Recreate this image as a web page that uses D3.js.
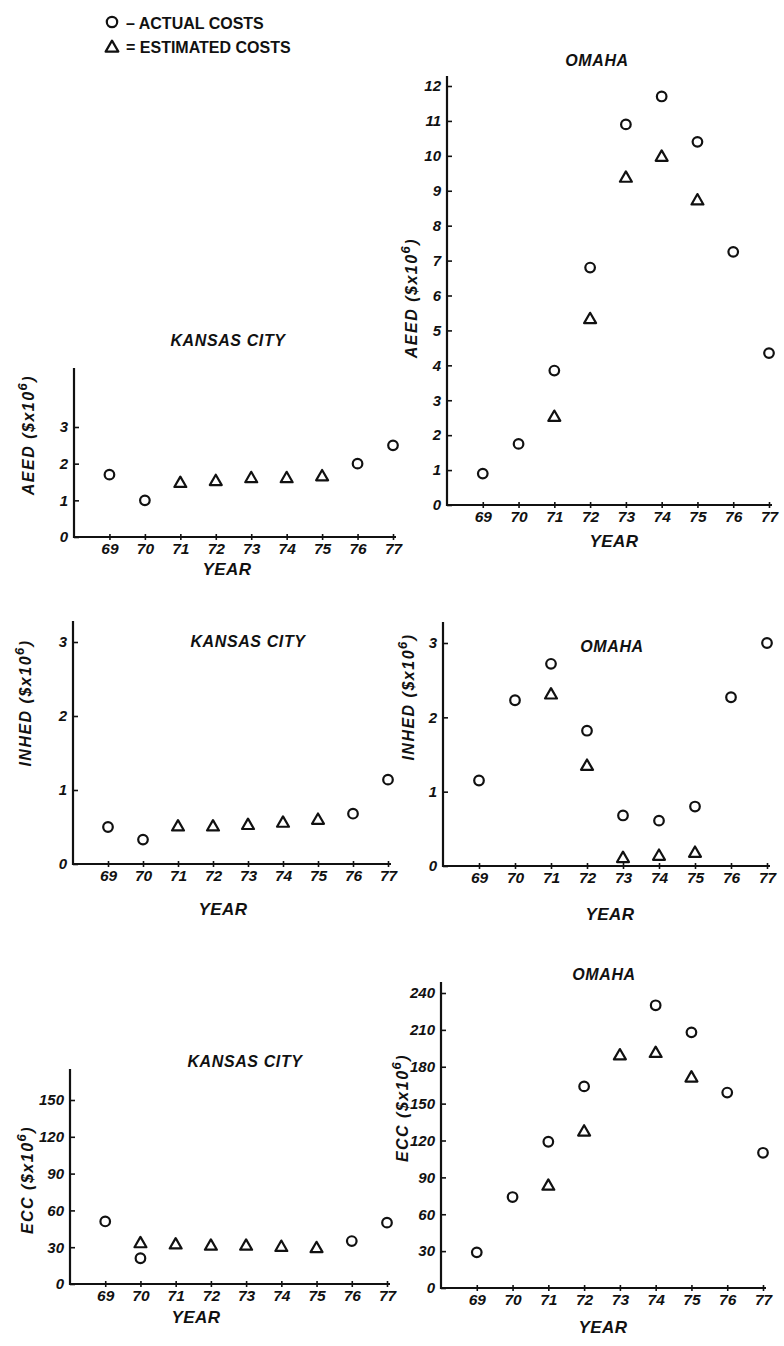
<!DOCTYPE html>
<html><head><meta charset="utf-8">
<script src="https://cdn.jsdelivr.net/npm/d3@7"></script>
<style>
html,body{margin:0;padding:0;background:#fff;}
svg{display:block;}
</style></head><body>
<svg id="c" width="784" height="1346"></svg>
<script>
// ---------- DATA ----------
const years = [69, 70, 71, 72, 73, 74, 75, 76, 77];
const yearLabels = ["69", "70", "71", "72", "73", "74", "75", "76", "77"];

const ticksInhedAeedKc = [0, 1, 2, 3];
const ticksAeedOmaha = [0, 1, 2, 3, 4, 5, 6, 7, 8, 9, 10, 11, 12];
const ticksEccKc = [0, 30, 60, 90, 120, 150];
const ticksEccOmaha = [0, 30, 60, 90, 120, 150, 180, 210, 240];

// [year, value]
const kcAeedActual = [[69, 1.7], [70, 1.0], [76, 2.0], [77, 2.5]];
const kcAeedEstimated = [[71, 1.5], [72, 1.55], [73, 1.63], [74, 1.63], [75, 1.68]];

const omahaAeedActual = [[69, 0.9], [70, 1.75], [71, 3.85], [72, 6.8], [73, 10.9], [74, 11.7], [75, 10.4], [76, 7.25], [77, 4.35]];
const omahaAeedEstimated = [[71, 2.55], [72, 5.35], [73, 9.4], [74, 10.0], [75, 8.75]];

const kcInhedActual = [[69, 0.5], [70, 0.33], [76, 0.68], [77, 1.14]];
const kcInhedEstimated = [[71, 0.52], [72, 0.52], [73, 0.54], [74, 0.57], [75, 0.61]];

const omahaInhedActual = [[69, 1.15], [70, 2.23], [71, 2.72], [72, 1.82], [73, 0.68], [74, 0.61], [75, 0.8], [76, 2.27], [77, 3.0]];
const omahaInhedEstimated = [[71, 2.32], [72, 1.36], [73, 0.12], [74, 0.15], [75, 0.19]];

const kcEccActual = [[69, 51], [70, 21], [76, 35], [77, 50]];
const kcEccEstimated = [[70, 34], [71, 33], [72, 32], [73, 32], [74, 31], [75, 30]];

const omahaEccActual = [[69, 29], [70, 74], [71, 119], [72, 164], [74, 230], [75, 208], [76, 159], [77, 110]];
const omahaEccEstimated = [[71, 84], [72, 128], [73, 190], [74, 192], [75, 172]];

const legendLabels = ["– ACTUAL COSTS", "= ESTIMATED COSTS"];

// ---------- PANELS ----------
const panels = [
  {title: "KANSAS CITY", ylab: "AEED", ticks: ticksInhedAeedKc, actual: kcAeedActual, est: kcAeedEstimated,
   L: {x0: 74, x77: 393, y0: 537, yRef: 427, top: 368, tx: 228, ty: 346, lx: 28, ly: 435, yx: 227, yy: 575}},
  {title: "OMAHA", ylab: "AEED", ticks: ticksAeedOmaha, actual: omahaAeedActual, est: omahaAeedEstimated,
   L: {x0: 447, x77: 769, y0: 505, yRef: 86, top: 76, tx: 597, ty: 66, lx: 411, ly: 298, yx: 614, yy: 547}},
  {title: "KANSAS CITY", ylab: "INHED", ticks: ticksInhedAeedKc, actual: kcInhedActual, est: kcInhedEstimated,
   L: {x0: 73, x77: 388, y0: 864, yRef: 642, top: 621, tx: 248, ty: 647, lx: 25, ly: 703, yx: 223, yy: 915}},
  {title: "OMAHA", ylab: "INHED", ticks: ticksInhedAeedKc, actual: omahaInhedActual, est: omahaInhedEstimated,
   L: {x0: 443, x77: 767, y0: 866, yRef: 643, top: 622, tx: 612, ty: 652, lx: 408, ly: 697, yx: 610, yy: 920}},
  {title: "KANSAS CITY", ylab: "ECC", ticks: ticksEccKc, actual: kcEccActual, est: kcEccEstimated,
   L: {x0: 70, x77: 387, y0: 1284, yRef: 1100, top: 1069, tx: 245, ty: 1067, lx: 27, ly: 1180, yx: 196, yy: 1323}},
  {title: "OMAHA", ylab: "ECC", ticks: ticksEccOmaha, actual: omahaEccActual, est: omahaEccEstimated,
   L: {x0: 441, x77: 763, y0: 1288, yRef: 993, top: 982, tx: 604, ty: 980, lx: 402, ly: 1108, yx: 603, yy: 1333}}
];

const INK = "#111";
const FONT = '"Liberation Sans", Arial, sans-serif';
const svg = d3.select("#c");
const tri = d3.symbol().type(d3.symbolTriangle).size(62);

function styleText(sel, size) {
  sel.attr("font-family", FONT).attr("font-weight", "bold").attr("font-style", "italic")
     .attr("font-size", size).attr("fill", INK);
}

panels.forEach(p => {
  const L = p.L;
  const g = svg.append("g");
  const maxTick = p.ticks[p.ticks.length - 1];
  const x = d3.scaleLinear().domain([68, 77]).range([L.x0, L.x77]);
  const y = d3.scaleLinear().domain([0, maxTick]).range([L.y0, L.yRef]);

  // y axis
  const ga = g.append("g").attr("transform", `translate(${L.x0},0)`)
    .call(d3.axisLeft(y).tickValues(p.ticks).tickSize(-5).tickPadding(6).tickFormat(d3.format("d")));
  ga.select(".domain").remove();
  ga.attr("font-family", null).attr("font-size", null);
  ga.selectAll(".tick line").attr("stroke", INK).attr("stroke-width", 1.6);
  styleText(ga.selectAll(".tick text"), 15);

  // x axis
  const gx = g.append("g").attr("transform", `translate(0,${L.y0})`)
    .call(d3.axisBottom(x).tickValues(years).tickSize(3).tickPadding(3)
      .tickFormat((d, i) => yearLabels[i]));
  gx.select(".domain").remove();
  gx.attr("font-family", null).attr("font-size", null);
  gx.selectAll(".tick line").attr("y1", -3).attr("stroke", INK).attr("stroke-width", 1.6);
  styleText(gx.selectAll(".tick text"), 15.5);

  // axis lines
  g.append("line").attr("x1", L.x0).attr("x2", L.x0).attr("y1", L.y0 + 1).attr("y2", L.top)
    .attr("stroke", INK).attr("stroke-width", 2.2);
  g.append("line").attr("x1", L.x0).attr("x2", x(77) + 3).attr("y1", L.y0).attr("y2", L.y0)
    .attr("stroke", INK).attr("stroke-width", 2.2);

  // title
  styleText(g.append("text").attr("x", L.tx).attr("y", L.ty).attr("text-anchor", "middle")
    .attr("letter-spacing", 0.6).text(p.title), 16);
  // YEAR
  styleText(g.append("text").attr("x", L.yx).attr("y", L.yy).attr("text-anchor", "middle")
    .attr("letter-spacing", 0.5).text("YEAR"), 17);
  // y label
  const yl = g.append("text").attr("transform", `translate(${L.lx + 6},${L.ly}) rotate(-90)`)
    .attr("text-anchor", "middle").attr("letter-spacing", 1.5);
  styleText(yl, 16);
  yl.append("tspan").text(p.ylab + " ($x10");
  yl.append("tspan").attr("dy", -7).attr("font-size", 13).text("6");
  yl.append("tspan").attr("dy", 7).text(")");

  // markers
  g.selectAll("circle.act").data(p.actual).join("circle").attr("class", "act")
    .attr("cx", d => x(d[0])).attr("cy", d => y(d[1])).attr("r", 4.8)
    .attr("fill", "none").attr("stroke", INK).attr("stroke-width", 2.2);
  g.selectAll("path.est").data(p.est).join("path").attr("class", "est")
    .attr("transform", d => `translate(${x(d[0])},${y(d[1]) + 1.5})`).attr("d", tri)
    .attr("fill", "none").attr("stroke", INK).attr("stroke-width", 2.2).attr("stroke-linejoin", "round");
});

// ---------- LEGEND ----------
const leg = svg.append("g");
leg.append("circle").attr("cx", 112).attr("cy", 22).attr("r", 5.2)
  .attr("fill", "none").attr("stroke", INK).attr("stroke-width", 2.2);
leg.append("path").attr("transform", "translate(112,48)").attr("d", d3.symbol().type(d3.symbolTriangle).size(70))
  .attr("fill", "none").attr("stroke", INK).attr("stroke-width", 2.2).attr("stroke-linejoin", "round");
leg.selectAll("text").data(legendLabels).join("text")
  .attr("x", 126).attr("y", (d, i) => i === 0 ? 29 : 53)
  .attr("font-family", FONT).attr("font-weight", "bold").attr("font-size", 16).attr("fill", INK)
  .text(d => d);
</script>
</body></html>
